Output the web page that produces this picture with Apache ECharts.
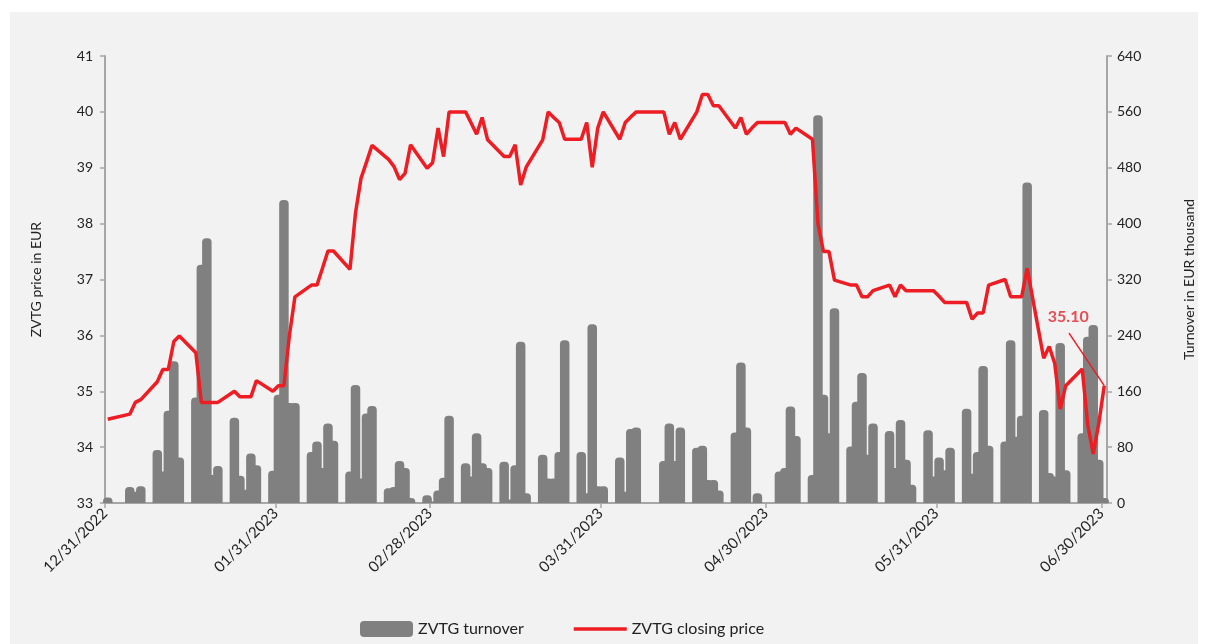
<!DOCTYPE html>
<html>
<head>
<meta charset="utf-8">
<script src="https://cdn.jsdelivr.net/npm/echarts@6/dist/echarts.min.js"></script>
<style>html,body{margin:0;padding:0;background:#ffffff}#c{width:1208px;height:644px}</style>
</head>
<body>
<div id="c"></div>
<script>
const dates = [
'2022-12-31',
'2023-01-04','2023-01-05','2023-01-06',
'2023-01-09','2023-01-10','2023-01-11','2023-01-12','2023-01-13',
'2023-01-16','2023-01-17','2023-01-18','2023-01-19','2023-01-20',
'2023-01-23','2023-01-24','2023-01-25','2023-01-26','2023-01-27',
'2023-01-30','2023-01-31','2023-02-01','2023-02-02','2023-02-03',
'2023-02-06','2023-02-07','2023-02-08','2023-02-09','2023-02-10',
'2023-02-13','2023-02-14','2023-02-15','2023-02-16','2023-02-17',
'2023-02-20','2023-02-21','2023-02-22','2023-02-23','2023-02-24',
'2023-02-27','2023-02-28','2023-03-01','2023-03-02','2023-03-03',
'2023-03-06','2023-03-07','2023-03-08','2023-03-09','2023-03-10',
'2023-03-13','2023-03-14','2023-03-15','2023-03-16','2023-03-17',
'2023-03-20','2023-03-21','2023-03-22','2023-03-23','2023-03-24',
'2023-03-27','2023-03-28','2023-03-29','2023-03-30','2023-03-31',
'2023-04-03','2023-04-04','2023-04-05','2023-04-06',
'2023-04-11','2023-04-12','2023-04-13','2023-04-14',
'2023-04-17','2023-04-18','2023-04-19','2023-04-20','2023-04-21',
'2023-04-24','2023-04-25','2023-04-26','2023-04-27','2023-04-28',
'2023-05-02','2023-05-03','2023-05-04','2023-05-05',
'2023-05-08','2023-05-09','2023-05-10','2023-05-11','2023-05-12',
'2023-05-15','2023-05-16','2023-05-17','2023-05-18','2023-05-19',
'2023-05-22','2023-05-23','2023-05-24','2023-05-25','2023-05-26',
'2023-05-29','2023-05-30','2023-05-31','2023-06-01','2023-06-02',
'2023-06-05','2023-06-06','2023-06-07','2023-06-08','2023-06-09',
'2023-06-12','2023-06-13','2023-06-14','2023-06-15','2023-06-16',
'2023-06-19','2023-06-20','2023-06-21','2023-06-22','2023-06-23',
'2023-06-26','2023-06-27','2023-06-28','2023-06-29','2023-06-30'
];
const closingPrice = [
34.50,
34.59,34.80,34.85,
35.17,35.39,35.39,35.89,35.99,
35.69,34.80,34.80,34.80,34.80,
35.00,34.90,34.90,34.90,35.19,
35.00,35.10,35.10,36.00,36.69,
36.90,36.90,37.20,37.51,37.51,
37.18,38.19,38.81,39.10,39.40,
39.15,39.02,38.79,38.90,39.41,
38.99,39.09,39.71,39.20,40.00,
40.00,39.80,39.60,39.90,39.50,
39.20,39.20,39.41,38.69,39.01,
39.50,40.00,39.90,39.81,39.51,
39.51,39.81,39.01,39.71,40.00,
39.51,39.81,39.91,40.00,
40.00,39.60,39.81,39.51,
40.00,40.31,40.31,40.11,40.11,
39.71,39.90,39.60,39.71,39.81,
39.81,39.81,39.60,39.71,
39.51,38.00,37.50,37.50,36.99,
36.90,36.90,36.69,36.69,36.80,
36.90,36.69,36.90,36.80,36.80,
36.80,36.80,36.70,36.59,36.59,
36.59,36.29,36.40,36.40,36.90,
37.00,36.69,36.69,36.69,37.20,
35.59,35.80,35.50,34.68,35.10,
35.40,34.40,33.88,34.42,35.10
];
const turnover = [
8,
23,16,24,
76,45,132,203,65,
151,341,379,40,53,
122,39,19,71,54,
46,155,434,143,143,
73,88,50,114,89,
45,169,35,128,139,
21,23,60,50,7,
11,2,18,36,125,
57,38,100,57,50,
59,5,54,231,14,
69,35,35,73,233,
73,14,256,24,24,
65,16,106,108,
60,114,60,108,
79,82,33,33,18,
101,201,108,0,14,
45,50,138,96,
40,555,155,100,279,
81,145,186,69,114,
103,50,119,62,26,
104,38,65,47,79,
135,42,73,196,82,
88,233,95,125,459,
133,43,38,229,47,
100,238,255,62,7
];
const tickDates = ['2022-12-31','2023-01-31','2023-02-28','2023-03-31','2023-04-30','2023-05-31','2023-06-30'];
const tickLabels = ['12/31/2022','01/31/2023','02/28/2023','03/31/2023','04/30/2023','05/31/2023','06/30/2023'];
const axisEndDate = '2023-07-01';
const priceTicks = {min: 33, max: 41, interval: 1};
const turnoverTicks = {min: 0, max: 640, interval: 80};

function dayOf(s) {
  const p = s.split('-').map(Number);
  return (Date.UTC(p[0], p[1] - 1, p[2]) - Date.UTC(2022, 11, 31)) / 86400000;
}
const tickDays = tickDates.map(dayOf);
const xs = dates.map(d => dayOf(d) + 0.5);
const barData = xs.map((x, i) => [x, turnover[i]]);
const lineData = xs.map((x, i) => [x, closingPrice[i]]);
const lastIdx = closingPrice.length - 1;
const lastPoint = lineData[lastIdx];
// leader line of the annotation: from just below the label down to the last point
const leaderStart = [lastPoint[0] - 6.4, lastPoint[1] + 0.94];

const FONT = 'Lato';
const RED = '#ee1c23';
const axisColor = '#a6a6a6';
const chart = echarts.init(document.getElementById('c'), null, {renderer: 'canvas'});
chart.setOption({
  animation: false,
  backgroundColor: '#ffffff',
  textStyle: {fontFamily: FONT},
  graphic: [{
    type: 'rect', left: 10, top: 12, z: -100, silent: true,
    shape: {width: 1188, height: 640},
    style: {fill: '#f2f2f2'}
  }],
  grid: {left: 105, right: 101, top: 56, bottom: 141, containLabel: false, outerBoundsMode: 'none'},
  legend: {
    left: 355, top: 616,
    itemWidth: 53, itemHeight: 16, itemGap: 50,
    symbolKeepAspect: true,
    textStyle: {fontFamily: FONT, fontSize: 16, color: '#222'},
    data: [
      {name: 'ZVTG turnover', icon: 'roundRect'},
      {name: 'ZVTG closing price', icon: 'path://M0,0L60,0L60,4L0,4Z'}
    ]
  },
  xAxis: {
    type: 'value', min: 0, max: dayOf(axisEndDate),
    splitLine: {show: false},
    axisLine: {show: true, lineStyle: {color: axisColor, width: 2}},
    axisTick: {show: true, customValues: tickDays, length: 5, lineStyle: {color: axisColor, width: 1.5}},
    axisLabel: {
      customValues: tickDays, rotate: 45, margin: 8,
      fontFamily: FONT, fontSize: 15, color: '#222',
      formatter: v => { const i = tickDays.indexOf(v); return i >= 0 ? tickLabels[i] : ''; }
    }
  },
  yAxis: [{
    type: 'value', position: 'left',
    min: priceTicks.min, max: priceTicks.max, interval: priceTicks.interval,
    name: 'ZVTG price in EUR', nameLocation: 'middle', nameRotate: 90, nameGap: 62,
    nameTextStyle: {fontFamily: FONT, fontSize: 14, color: '#222'},
    splitLine: {show: false},
    axisLine: {show: true, lineStyle: {color: axisColor, width: 2}},
    axisTick: {show: true, length: 5, lineStyle: {color: axisColor, width: 1.5}},
    axisLabel: {fontFamily: FONT, fontSize: 14, color: '#222', margin: 12}
  }, {
    type: 'value', position: 'right',
    min: turnoverTicks.min, max: turnoverTicks.max, interval: turnoverTicks.interval,
    name: 'Turnover in EUR thousand', nameLocation: 'middle', nameRotate: 90, nameGap: 75,
    nameTextStyle: {fontFamily: FONT, fontSize: 14, color: '#222'},
    splitLine: {show: false},
    axisLine: {show: true, lineStyle: {color: axisColor, width: 2}},
    axisTick: {show: true, length: 5, lineStyle: {color: axisColor, width: 1.5}},
    axisLabel: {fontFamily: FONT, fontSize: 14, color: '#222', margin: 10}
  }],
  series: [{
    name: 'ZVTG turnover', type: 'bar', yAxisIndex: 1, xAxisIndex: 0,
    data: barData, barWidth: 9.5,
    itemStyle: {color: '#808080', borderRadius: [4, 4, 0, 0]},
    emphasis: {disabled: true}, z: 2
  }, {
    name: 'ZVTG closing price', type: 'line', yAxisIndex: 0, xAxisIndex: 0,
    data: lineData, symbol: 'none', showSymbol: false,
    lineStyle: {color: RED, width: 3.5}, itemStyle: {color: RED},
    emphasis: {disabled: true}, z: 5,
    markLine: {
      silent: true, symbol: ['none', 'none'], label: {show: false},
      lineStyle: {color: RED, width: 1.5, type: 'solid'},
      emphasis: {disabled: true},
      data: [[{coord: leaderStart}, {coord: lastPoint}]]
    }
  }, {
    name: 'annotation', type: 'scatter', yAxisIndex: 0, xAxisIndex: 0,
    data: [lastPoint], symbolSize: 0, silent: true, z: 6,
    label: {
      show: true, position: 'top', color: '#e0242a', fontWeight: 'bold', fontSize: 16, fontFamily: FONT,
      formatter: p => p.value[1].toFixed(2)
    },
    labelLayout: {dx: -36, dy: -56}
  }]
});
</script>
</body>
</html>
